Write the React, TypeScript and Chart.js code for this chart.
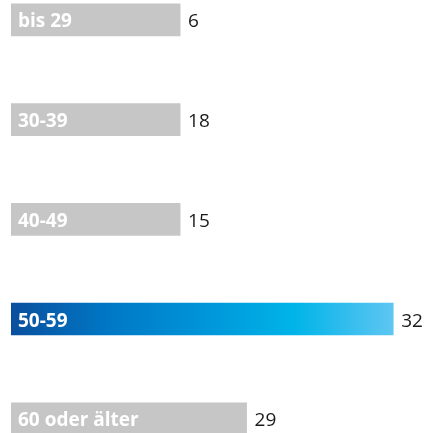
import React, { useEffect, useRef } from "react";
import { Chart, registerables } from "chart.js";

Chart.register(...registerables);

// Data
const categories = ["bis 29", "30-39", "40-49", "50-59", "60 oder älter"];
const values = [6, 18, 15, 32, 29];
const highlighted = [false, false, false, true, false];
// The infographic gives short bars a minimum length so their label fits,
// and its value axis does not start at zero.
const axisMin = 24.18;
const axisMax = 32.65;
const minBarValue = 27.64;

const valueLabelPlugin = {
  id: "valueLabels",
  afterDatasetsDraw(chart: any) {
    const ctx = chart.ctx;
    const meta = chart.getDatasetMeta(0);
    const xs = chart.scales.x;
    const left = xs.getPixelForValue(axisMin);
    ctx.save();
    meta.data.forEach((bar: any, i: number) => {
      const right = bar.x;
      const y = bar.y;
      ctx.textBaseline = "alphabetic";
      ctx.textAlign = "left";
      ctx.fillStyle = "#ffffff";
      ctx.font = "bold 19px 'Open Sans', sans-serif";
      ctx.fillText(categories[i], left + 7, y + 7.5);
      ctx.fillStyle = "#1a1a1a";
      ctx.font = "19px 'Open Sans', sans-serif";
      ctx.fillText(String(values[i]), right + 8, y + 7.5);
    });
    ctx.restore();
  },
};

export default function App() {
  const ref = useRef<HTMLCanvasElement>(null);
  useEffect(() => {
    document.body.style.margin = "0";
    const canvas = ref.current!;
    const chart = new Chart(canvas, {
      type: "bar",
      data: {
        datasets: [
          {
            data: values.map((v, i) => ({ x: Math.max(v, minBarValue), y: i })),
            barThickness: 32,
            borderWidth: 0,
            backgroundColor: (c: any) => {
              const i = c.dataIndex;
              if (!highlighted[i]) return "#c6c6c6";
              const ch = c.chart;
              const xs = ch.scales.x;
              if (!xs || !ch.chartArea) return "#0090d4";
              const x0 = xs.getPixelForValue(axisMin);
              const x1 = xs.getPixelForValue(values[i]);
              const g = ch.ctx.createLinearGradient(x0, 0, x1, 0);
              g.addColorStop(0, "#0a4f9e");
              g.addColorStop(0.25, "#0077c4");
              g.addColorStop(0.5, "#0094d8");
              g.addColorStop(0.74, "#00b4e8");
              g.addColorStop(1, "#5ec6f2");
              return g;
            },
          } as any,
        ],
      },
      options: {
        indexAxis: "y",
        animation: false,
        responsive: false,
        layout: { padding: { left: 11, right: 0, top: 0, bottom: 0 } },
        plugins: { legend: { display: false }, tooltip: { enabled: false } },
        scales: {
          x: { type: "linear", min: axisMin, max: axisMax, display: false },
          y: { type: "linear", reverse: true, offset: false, min: -0.2, max: 4.143, display: false },
        },
      } as any,
      plugins: [valueLabelPlugin],
    });
    return () => chart.destroy();
  }, []);
  return (
    <div style={{ position: "fixed", left: 0, top: 0 }}>
      <canvas ref={ref} width={425} height={433} style={{ display: "block" }} />
    </div>
  );
}
